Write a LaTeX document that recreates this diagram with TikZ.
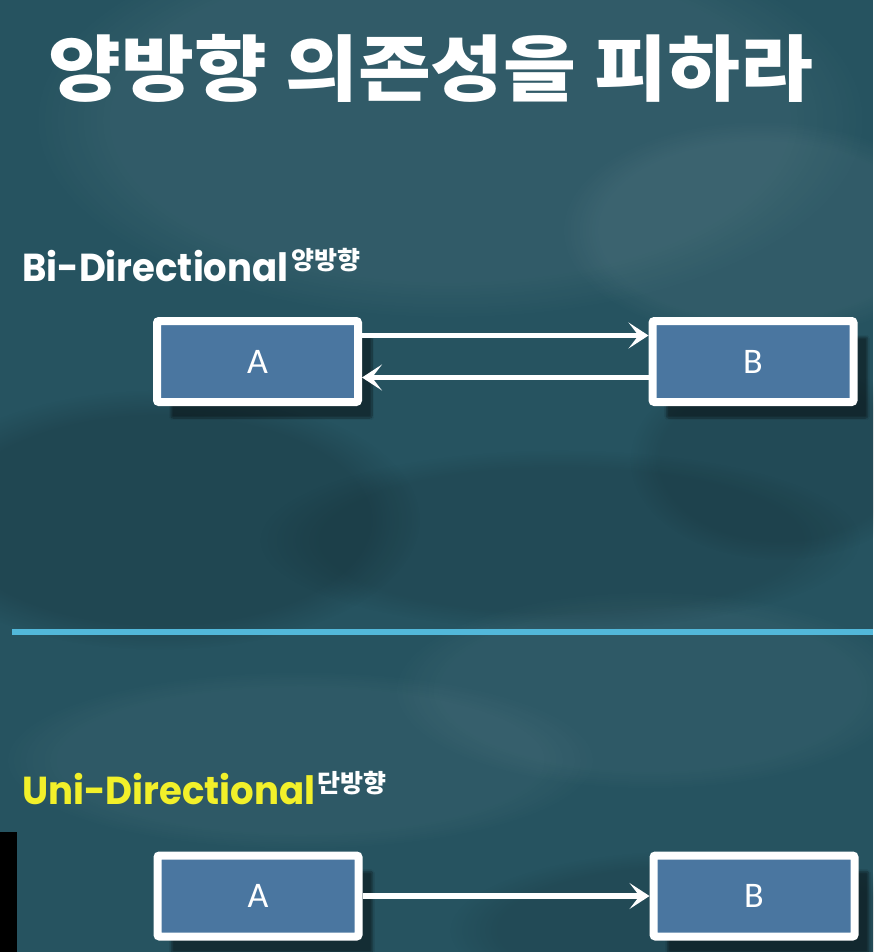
\documentclass[tikz,border=0pt]{standalone}
\usepackage{fontspec}
\setmainfont{Carlito}
\newfontfamily\cjk{Noto Sans CJK KR}
\newfontfamily\lab{Poppins}
\usetikzlibrary{arrows.meta,shadows.blur,fadings}
\definecolor{bgteal}{HTML}{265360}
\definecolor{boxblue}{HTML}{4A76A0}
\definecolor{divline}{HTML}{52B8DA}
\definecolor{uniyellow}{HTML}{F2F02A}
\tikzset{
  box/.style={draw=white, line width=8pt, fill=boxblue, rounded corners=2pt,
    minimum width=201pt, minimum height=81pt, text=white,
    font=\fontsize{36}{36}\selectfont,
    blur shadow={shadow xshift=14pt, shadow yshift=-16pt, shadow opacity=45, shadow blur steps=10}},
  arr/.style={draw=white, line width=5.5pt, -{Stealth[length=20pt, width=26pt, inset=10pt]}},
  lbl/.style={anchor=base west, inner sep=0pt, font=\lab\bfseries\fontsize{39}{39}\selectfont},
  sup/.style={anchor=base west, inner sep=0pt, text=white, font=\cjk\bfseries\fontsize{25}{25}\selectfont},
  patch/.style={path fading=circle with fuzzy edge 20 percent}
}
\begin{document}
\begin{tikzpicture}[x=1pt,y=-1pt]
\useasboundingbox (0,0) rectangle (873,952);
% background
\fill[bgteal] (0,0) rectangle (873,952);
\fill[white, opacity=0.05, patch] (450,120) ellipse (420 and 200);
\fill[white, opacity=0.05, patch] (760,230) ellipse (200 and 110);
\fill[white, opacity=0.04, patch] (650,690) ellipse (260 and 100);
\fill[black, opacity=0.14, patch] (160,520) ellipse (260 and 130);
\fill[black, opacity=0.10, patch] (560,540) ellipse (300 and 90);
\fill[black, opacity=0.10, patch] (780,460) ellipse (150 and 100);
\fill[white, opacity=0.04, patch] (300,760) ellipse (300 and 90);
\fill[black, opacity=0.10, patch] (700,930) ellipse (250 and 80);
% title
\node[text=white, font=\cjk\bfseries\fontsize{72}{72}\selectfont] (title) at (431,68) {\scalebox{1.1}[1]{양방향 의존성을 피하라}};
% bi-directional label
\node[lbl, text=white] (bi) at (22,281) {\scalebox{0.95}[1]{Bi-Directional}};
\node[sup] (bisup) at (bi.base east) [yshift=12pt, xshift=2pt] {양방향};
% boxes top
\node[box] (A1) at (257.5,361.5) {A};
\node[box] (B1) at (753,361.5) {B};
\draw[arr] ([yshift=26pt]A1.east) -- ([yshift=26pt]B1.west);
\draw[arr] ([yshift=-16pt]B1.west) -- ([yshift=-16pt]A1.east);
% divider
\coordinate (L1) at (12,632);
\coordinate (L2) at (873,632);
\draw[divline, line width=6pt] (L1) -- (L2);
% black bar
\fill[black] (0,832) rectangle (17,952);
% uni-directional label
\node[lbl, text=uniyellow] (uni) at (22,804) {\scalebox{0.95}[1]{Uni-Directional}};
\node[sup] (unisup) at (uni.base east) [yshift=12pt, xshift=2pt] {단방향};
% boxes bottom
\node[box] (A2) at (258,896) {A};
\node[box] (B2) at (754,896) {B};
\draw[arr] (A2) -- (B2);
\end{tikzpicture}
\end{document}
